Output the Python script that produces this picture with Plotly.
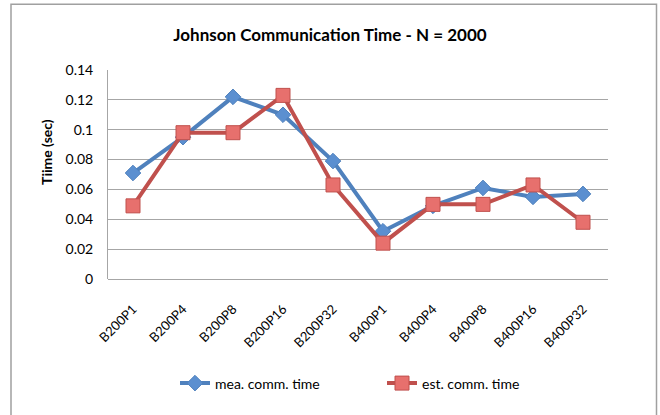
import plotly.graph_objects as go

configs = ["B200P1", "B200P4", "B200P8", "B200P16", "B200P32",
           "B400P1", "B400P4", "B400P8", "B400P16", "B400P32"]
measured = [0.071, 0.095, 0.122, 0.110, 0.079, 0.032, 0.049, 0.061, 0.055, 0.057]
estimated = [0.049, 0.098, 0.098, 0.123, 0.063, 0.024, 0.050, 0.050, 0.063, 0.038]
y_ticks = [0, 0.02, 0.04, 0.06, 0.08, 0.1, 0.12, 0.14]
y_tick_text = ["0", "0.02", "0.04", "0.06", "0.08", "0.1", "0.12", "0.14"]

FONT = "Lato"
GRID = "#a6a6a6"

fig = go.Figure()
fig.add_trace(go.Scatter(
    x=configs, y=measured, name="mea. comm. time", mode="lines+markers",
    line=dict(color="#4F81BD", width=4),
    marker=dict(symbol="diamond", size=12, color="#5b8fd0",
                line=dict(color="#4F81BD", width=1)),
))
fig.add_trace(go.Scatter(
    x=configs, y=estimated, name="est. comm. time", mode="lines+markers",
    line=dict(color="#C0504D", width=4),
    marker=dict(symbol="square", size=14, color="#e7706d",
                line=dict(color="#c0504d", width=1)),
))

# outer chart frame
fig.add_shape(type="rect", xref="paper", yref="paper",
              x0=-0.194, x1=1.097, y0=-0.68, y1=1.315,
              line=dict(color="#a0a0a0", width=1.5), fillcolor="rgba(0,0,0,0)",
              layer="below")

# value-axis title
fig.add_annotation(text="<b>Tiime (sec)</b>", xref="paper", yref="paper",
                   x=-0.122, y=0.608, xanchor="center", yanchor="middle",
                   textangle=-90, showarrow=False,
                   font=dict(family=FONT, size=14, color="#000000"))

fig.update_layout(
    width=660, height=415,
    margin=dict(l=108, r=52, t=70, b=136),
    paper_bgcolor="white", plot_bgcolor="white",
    font=dict(family=FONT, size=13, color="#000000"),
    title=dict(text="<b>Johnson Communication Time - N = 2000</b>",
               x=0.5, xanchor="center", y=0.915, yanchor="middle",
               font=dict(family=FONT, size=17, color="#000000")),
    showlegend=True,
    legend=dict(orientation="h", x=0.134, xanchor="left", y=-0.5, yanchor="middle",
                font=dict(family=FONT, size=14), itemwidth=30,
                entrywidth=162, entrywidthmode="pixels",
                bgcolor="rgba(0,0,0,0)"),
    xaxis=dict(
        type="category", tickangle=-45, showgrid=False,
        showline=False, ticks="", tickfont=dict(family=FONT, size=13),
        ticklabelstandoff=19,
        range=[-0.5, 9.5],
    ),
    yaxis=dict(
        range=[0, 0.14], tickvals=y_ticks, ticktext=y_tick_text,
        showgrid=True, gridcolor=GRID, gridwidth=1,
        showline=True, linecolor=GRID, linewidth=1,
        ticks="", ticklabelstandoff=11,
        zeroline=True, zerolinecolor=GRID, zerolinewidth=1,
        tickfont=dict(family=FONT, size=14),
    ),
)

fig.write_html("out.html")
